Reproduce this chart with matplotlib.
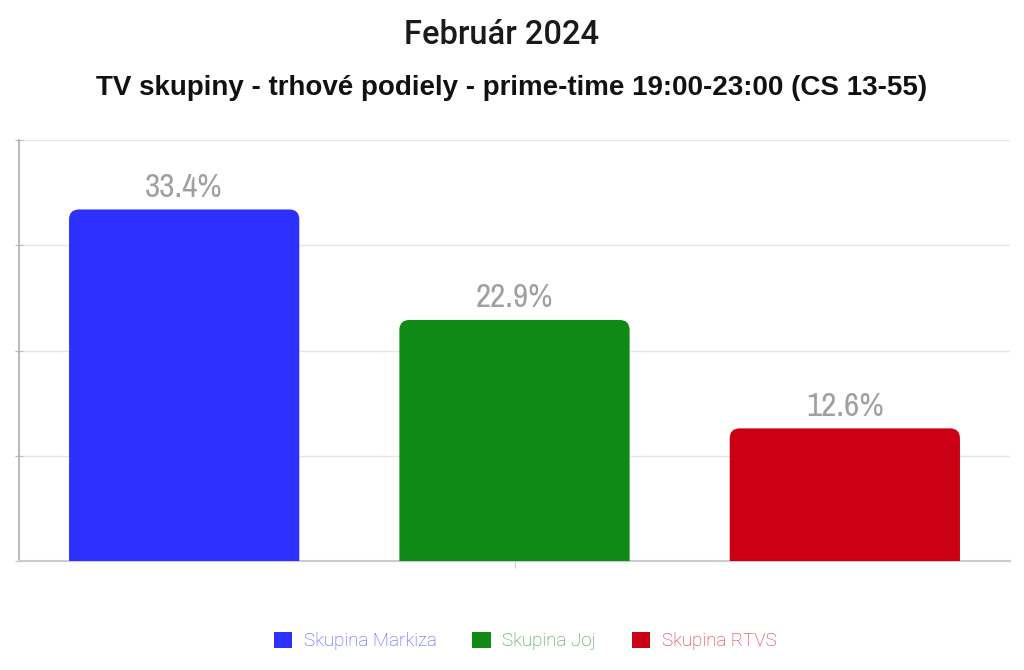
import matplotlib
matplotlib.use("Agg")
import matplotlib.pyplot as plt
from matplotlib import font_manager
from matplotlib.patches import PathPatch, Patch
from matplotlib.path import Path
from matplotlib.font_manager import FontProperties

title = "Február 2024"
subtitle = "TV skupiny - trhové podiely - prime-time 19:00-23:00 (CS 13-55)"
series = ["Skupina Markiza", "Skupina Joj", "Skupina RTVS"]
values = [33.4, 22.9, 12.6]
colors = ["#2d30ff", "#0f8a14", "#cc0014"]
yticks = [0, 10, 20, 30, 40]

ttf = font_manager.fontManager.ttflist
narrow_reg = next((f.fname for f in ttf if "Narrow" in f.name and f.weight in (400, "normal", "regular") and f.style == "normal"), None)
lib_bold = next((f.fname for f in ttf if f.name == "Liberation Sans" and f.weight in (700, "bold") and f.style == "normal" and "Narrow" not in f.fname), None)

def fp(fname, size, fallback="DejaVu Sans", weight="normal"):
    if fname:
        return FontProperties(fname=fname, size=size)
    return FontProperties(family=fallback, size=size, weight=weight)

fig = plt.figure(figsize=(10.24, 6.7), dpi=100)
ax = fig.add_axes([19/1024, 1-561/670, (1010-19)/1024, (561-140)/670])

xs = list(range(len(values)))
bars = ax.bar(xs, values, width=0.697, color=colors)
ax.set_xlim(-0.5, 2.5)
ax.set_ylim(0, 40)

px_x = 3.0 / (1010-19)
px_y = 40.0 / (561-140)
rx, ry = 10 * px_x, 10 * px_y
for b, c in zip(bars, colors):
    x, y, w, h = b.get_x(), b.get_y(), b.get_width(), b.get_height()
    b.set_visible(False)
    verts = [(x, y), (x, h-ry), (x, h), (x+rx, h), (x+w-rx, h), (x+w, h), (x+w, h-ry), (x+w, y), (x, y)]
    codes = [Path.MOVETO, Path.LINETO, Path.CURVE3, Path.CURVE3, Path.LINETO,
             Path.CURVE3, Path.CURVE3, Path.LINETO, Path.CLOSEPOLY]
    ax.add_patch(PathPatch(Path(verts, codes), facecolor=c, edgecolor="none", zorder=3))
    ax.text(x + w/2, h + 1.2, f"{h:.1f}%", ha="center", va="baseline",
            fontproperties=fp(narrow_reg, 24), color="#a0a0a0", zorder=4)

ax.set_yticks(yticks)
ax.set_yticklabels([])
ax.set_xticks([1])
ax.set_xticklabels([])
ax.grid(axis="y", color="#e6e6e6", linewidth=1, zorder=0)
ax.set_axisbelow(True)
for s in ["top", "right"]:
    ax.spines[s].set_visible(False)
ax.spines["left"].set_color("#bbbbbb")
ax.spines["left"].set_linewidth(1.5)
ax.spines["bottom"].set_color("#cccccc")
ax.spines["bottom"].set_linewidth(1.5)
ax.tick_params(axis="y", direction="inout", length=6, color="#bbbbbb")
ax.tick_params(axis="x", direction="out", length=5, color="#cccccc")

fig.text(502/1024, 1-35/670, title, ha="center", va="center",
         fontproperties=FontProperties(family="Roboto", weight="medium", size=23.5), color="#1a1a1a")
sub_fp = FontProperties(fname=lib_bold, size=20) if lib_bold else FontProperties(family="Roboto", weight="bold", size=20)
fig.text(0.5, 1-88/670, subtitle, ha="center", va="center",
         fontproperties=sub_fp, color="#111111")

handles = [Patch(facecolor=c, edgecolor="none", label=s) for s, c in zip(series, colors)]
leg = fig.legend(handles=handles, loc="center", bbox_to_anchor=(525/1024, 1-641/670), ncol=3,
                 frameon=False, handlelength=1.0, handleheight=1.0,
                 handletextpad=0.6, columnspacing=1.9,
                 prop=FontProperties(family="Roboto", weight="light", size=13.5))
for t, c in zip(leg.get_texts(), colors):
    t.set_color(c)
    t.set_alpha(0.85)

fig.savefig("out.png", dpi=100, facecolor="white")
